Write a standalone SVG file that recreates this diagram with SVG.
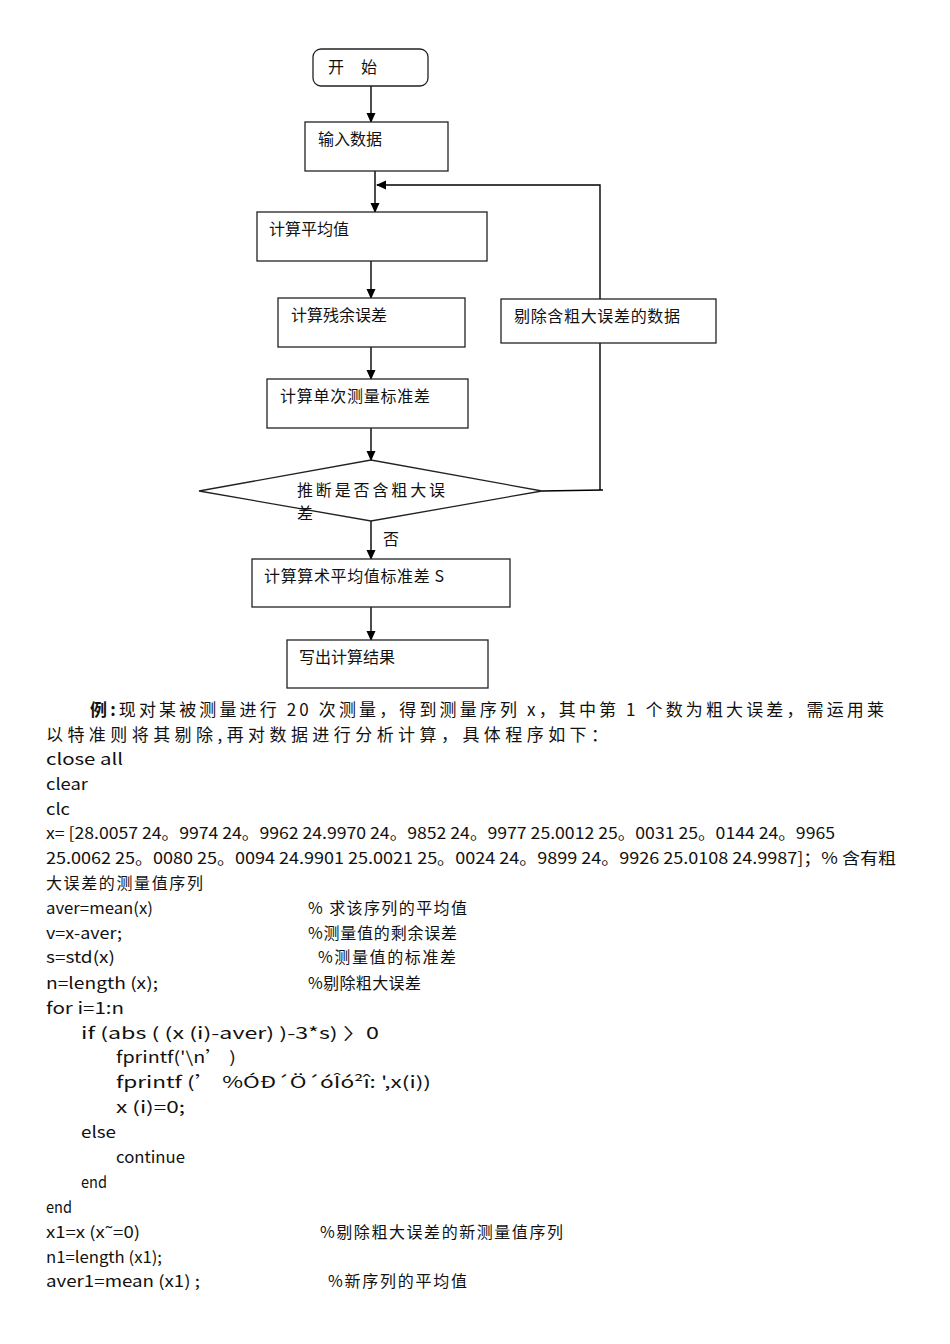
<svg xmlns="http://www.w3.org/2000/svg" width="950" height="1344" viewBox="0 0 950 1344">
<style>
.box{fill:#fff;stroke:#222;stroke-width:1.3}
.ln{fill:none;stroke:#000;stroke-width:1.4}
.t{font-family:"Noto Sans CJK SC","Noto Sans",sans-serif;font-size:16px;fill:#111}
.p{font-family:"Noto Sans CJK SC","Noto Sans",sans-serif;font-size:17px;fill:#111}
.c{font-family:"Noto Sans CJK SC","Noto Sans",sans-serif;font-size:16px;fill:#111}
</style>
<defs>
<marker id="ar" markerWidth="10" markerHeight="10" refX="9" refY="5" orient="auto" markerUnits="userSpaceOnUse">
<path d="M0,0.5 L10,5 L0,9.5 Z" fill="#000"/>
</marker>
</defs>
<rect width="950" height="1344" fill="#fff"/>
<g id="connectors">
<line class="ln" x1="371" y1="86" x2="371" y2="122" marker-end="url(#ar)"/>
<line class="ln" x1="375" y1="171" x2="375" y2="212" marker-end="url(#ar)"/>
<line class="ln" x1="371" y1="261" x2="371" y2="298" marker-end="url(#ar)"/>
<line class="ln" x1="371" y1="347" x2="371" y2="379" marker-end="url(#ar)"/>
<line class="ln" x1="371" y1="428" x2="371" y2="460" marker-end="url(#ar)"/>
<line class="ln" x1="371" y1="521" x2="371" y2="559" marker-end="url(#ar)"/>
<line class="ln" x1="371" y1="607" x2="371" y2="640" marker-end="url(#ar)"/>
<polyline class="ln" points="542,491 603,490"/>
<polyline class="ln" points="600,490 600,185 377,185" marker-end="url(#ar)"/>
</g>
<g id="start">
<rect class="box" x="313" y="49" width="115" height="37" rx="8"/>
<text class="t" x="328" y="73">开</text><text class="t" x="361" y="73">始</text>
</g>
<g id="input">
<rect class="box" x="305" y="122" width="143" height="49"/>
<text class="t" x="318" y="145">输入数据</text>
</g>
<g id="mean">
<rect class="box" x="257" y="212" width="230" height="49"/>
<text class="t" x="269" y="235">计算平均值</text>
</g>
<g id="residual">
<rect class="box" x="278" y="298" width="187" height="49"/>
<text class="t" x="291" y="321">计算残余误差</text>
</g>
<g id="remove">
<rect class="box" x="501" y="299" width="215" height="44"/>
<text class="t" x="514" y="322" textLength="166" lengthAdjust="spacing">剔除含粗大误差的数据</text>
</g>
<g id="stddev">
<rect class="box" x="267" y="379" width="201" height="49"/>
<text class="t" x="280" y="402" textLength="150" lengthAdjust="spacing">计算单次测量标准差</text>
</g>
<g id="decision">
<polygon class="box" points="199,491 371,460 542,491 371,521"/>
<text class="t" x="297" y="496" textLength="148" lengthAdjust="spacing">推断是否含粗大误</text>
<text class="t" x="297" y="519">差</text>
</g>
<text class="t" x="383" y="545">否</text>
<g id="meanstd">
<rect class="box" x="252" y="559" width="258" height="48"/>
<text class="t" x="264" y="582" textLength="180" lengthAdjust="spacing">计算算术平均值标准差 S</text>
</g>
<g id="output">
<rect class="box" x="287" y="640" width="201" height="48"/>
<text class="t" x="299" y="663">写出计算结果</text>
</g>
<g id="text">
<text class="p" x="90" y="716" textLength="794" lengthAdjust="spacing"><tspan font-weight="bold">例:</tspan>现对某被测量进行 20 次测量，得到测量序列 x，其中第 1 个数为粗大误差，需运用莱</text>
<text class="p" x="46" y="741" textLength="562" lengthAdjust="spacing">以特准则将其剔除,再对数据进行分析计算，具体程序如下：</text>
<text class="c" x="46" y="765" textLength="77" lengthAdjust="spacingAndGlyphs">close all</text>
<text class="c" x="46" y="790" textLength="42" lengthAdjust="spacingAndGlyphs">clear</text>
<text class="c" x="46" y="815" textLength="24" lengthAdjust="spacingAndGlyphs">clc</text>
<text class="c" x="46" y="839" textLength="789" lengthAdjust="spacingAndGlyphs">x= [28.0057 24。9974 24。9962 24.9970 24。9852 24。9977 25.0012 25。0031 25。0144 24。9965</text>
<text class="c" x="46" y="864" textLength="850" lengthAdjust="spacingAndGlyphs">25.0062 25。0080 25。0094 24.9901 25.0021 25。0024 24。9899 24。9926 25.0108 24.9987]；% 含有粗</text>
<text class="c" x="46" y="889" textLength="157" lengthAdjust="spacing">大误差的测量值序列</text>
<text class="c" x="46" y="914" textLength="107" lengthAdjust="spacingAndGlyphs">aver=mean(x)</text>
<text class="c" x="308" y="914" textLength="159" lengthAdjust="spacing">% 求该序列的平均值</text>
<text class="c" x="46" y="939" textLength="76" lengthAdjust="spacingAndGlyphs">v=x-aver;</text>
<text class="c" x="308" y="939" textLength="149" lengthAdjust="spacing">%测量值的剩余误差</text>
<text class="c" x="46" y="963" textLength="69" lengthAdjust="spacingAndGlyphs">s=std(x)</text>
<text class="c" x="318" y="963" textLength="138" lengthAdjust="spacing">%测量值的标准差</text>
<text class="c" x="46" y="989" textLength="112" lengthAdjust="spacingAndGlyphs">n=length (x);</text>
<text class="c" x="308" y="989" textLength="113" lengthAdjust="spacing">%剔除粗大误差</text>
<text class="c" x="46" y="1014" textLength="78" lengthAdjust="spacingAndGlyphs">for i=1:n</text>
<text class="c" x="81" y="1039" textLength="298" lengthAdjust="spacingAndGlyphs">if (abs ( (x (i)-aver) )-3*s) 〉0</text>
<text class="c" x="116" y="1063" textLength="120" lengthAdjust="spacingAndGlyphs">fprintf('\n’ )</text>
<text class="c" x="116" y="1088" textLength="315" lengthAdjust="spacingAndGlyphs">fprintf (’ %ÓÐ´Ö´óÎó²î:  ',x(i))</text>
<text class="c" x="116" y="1113" textLength="69" lengthAdjust="spacingAndGlyphs">x (i)=0;</text>
<text class="c" x="81" y="1138" textLength="35" lengthAdjust="spacingAndGlyphs">else</text>
<text class="c" x="116" y="1163" textLength="69" lengthAdjust="spacingAndGlyphs">continue</text>
<text class="c" x="81" y="1188" textLength="26" lengthAdjust="spacingAndGlyphs">end</text>
<text class="c" x="46" y="1213" textLength="26" lengthAdjust="spacingAndGlyphs">end</text>
<text class="c" x="46" y="1238" textLength="94" lengthAdjust="spacingAndGlyphs">x1=x (x˜=0)</text>
<text class="c" x="320" y="1238" textLength="243" lengthAdjust="spacing">%剔除粗大误差的新测量值序列</text>
<text class="c" x="46" y="1263" textLength="116" lengthAdjust="spacingAndGlyphs">n1=length (x1);</text>
<text class="c" x="46" y="1287" textLength="154" lengthAdjust="spacingAndGlyphs">aver1=mean (x1)  ;</text>
<text class="c" x="328" y="1287" textLength="139" lengthAdjust="spacing">%新序列的平均值</text>
</g>
</svg>
